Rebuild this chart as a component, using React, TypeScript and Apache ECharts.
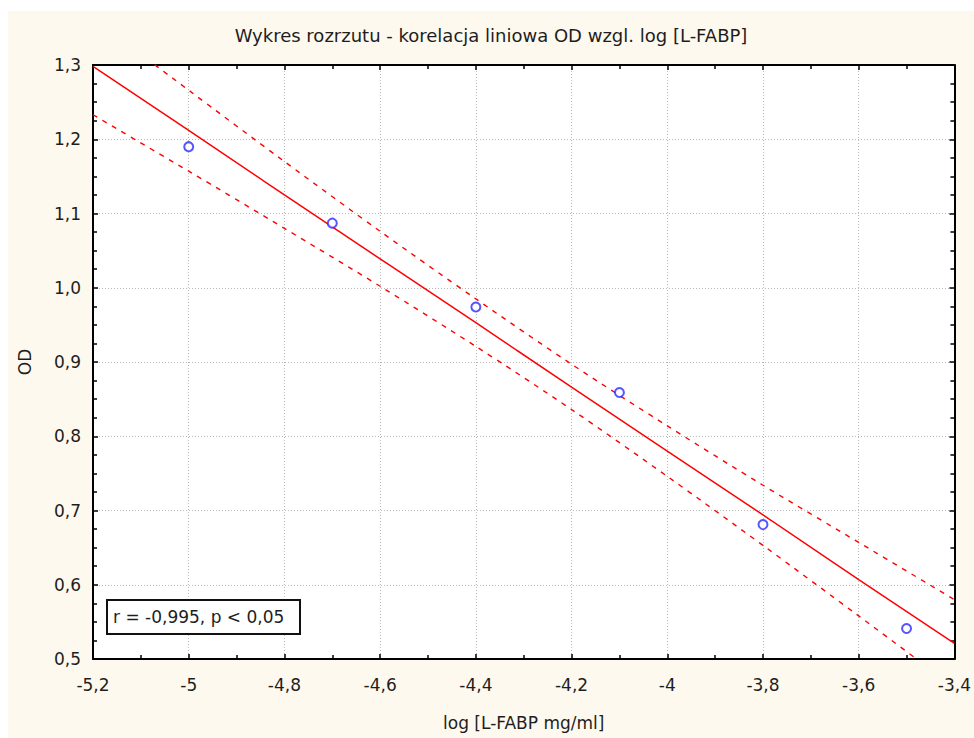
import React, { useEffect, useRef } from "react";
import * as echarts from "echarts";

const titleText = "Wykres rozrzutu - korelacja liniowa OD wzgl. log [L-FABP]";
const xName = "log [L-FABP mg/ml]";
const yName = "OD";
const statText = "r = -0,995, p < 0,05";

// measured points
const logConc = [-5.0, -4.7, -4.4, -4.1, -3.8, -3.5];
const odValues = [1.19, 1.087, 0.974, 0.859, 0.681, 0.541];

// regression line and 95% confidence bands read at the grid positions
const fitX = [-5.2, -5.0, -4.8, -4.6, -4.4, -4.2, -4.0, -3.8, -3.6, -3.4];
const fitLine = [1.298, 1.212, 1.125, 1.039, 0.953, 0.866, 0.78, 0.694, 0.607, 0.521];
const upperBand = [1.363, 1.266, 1.17, 1.076, 0.985, 0.897, 0.814, 0.734, 0.657, 0.58];
const lowerBand = [1.233, 1.157, 1.08, 1.002, 0.921, 0.836, 0.746, 0.653, 0.558, 0.462];

const FONT = "DejaVu Sans";
const TXT = "#1e1e1e";

export default function App() {
  const ref = useRef<HTMLDivElement>(null);
  useEffect(() => {
    const chart = echarts.init(ref.current!, null, { renderer: "svg" });
    const pair = (xs: number[], ys: number[]) => xs.map((x, i) => [x, ys[i]]);
    const fmtX = (v: number) => String(+v.toFixed(1)).replace(".", ",");
    const fmtY = (v: number) => v.toFixed(1).replace(".", ",");
    const tick = { show: true, inside: true, length: 5, lineStyle: { color: "#000", width: 1.5 } };
    const axisLine = { show: true, lineStyle: { color: "#000", width: 2 } };
    const split = { show: true, lineStyle: { color: "#b8b8b8", type: [1, 2], width: 1 } };
    const bandStyle = { color: "#ff0000", width: 1.4, type: [5, 6] };
    const minor = (n: number) => ({ show: true, splitNumber: n, length: 4, lineStyle: { color: "#000", width: 1.5 } });
    chart.setOption({
      animation: false,
      backgroundColor: "transparent",
      title: {
        text: titleText,
        left: "center",
        top: 10,
        textStyle: { fontFamily: FONT, fontSize: 18, fontWeight: "normal", color: TXT },
      },
      grid: {
        left: 82,
        top: 54,
        width: 868,
        height: 594,
        show: true,
        backgroundColor: "#ffffff",
        borderWidth: 0,
      },
      xAxis: [
        {
          type: "value",
          min: -5.2,
          max: -3.4,
          interval: 0.2,
          name: xName,
          nameLocation: "middle",
          nameGap: 55,
          nameTextStyle: { fontFamily: FONT, fontSize: 17, color: TXT },
          axisLine,
          axisTick: tick,
          minorTick: minor(2),
          splitLine: split,
          axisLabel: { formatter: fmtX, margin: 17, fontFamily: FONT, fontSize: 17, color: TXT },
        },
        {
          type: "value",
          position: "top",
          min: -5.2,
          max: -3.4,
          interval: 0.2,
          axisLine,
          axisTick: tick,
          minorTick: minor(2),
          splitLine: { show: false },
          axisLabel: { show: false },
        },
      ],
      yAxis: [
        {
          type: "value",
          min: 0.5,
          max: 1.3,
          interval: 0.1,
          name: yName,
          nameLocation: "middle",
          nameGap: 60,
          nameTextStyle: { fontFamily: FONT, fontSize: 17, color: TXT },
          axisLine,
          axisTick: tick,
          minorTick: minor(4),
          splitLine: split,
          axisLabel: { formatter: fmtY, margin: 12, fontFamily: FONT, fontSize: 17, color: TXT },
        },
        {
          type: "value",
          position: "right",
          min: 0.5,
          max: 1.3,
          interval: 0.1,
          axisLine,
          axisTick: tick,
          minorTick: minor(4),
          splitLine: { show: false },
          axisLabel: { show: false },
        },
      ],
      series: [
        {
          type: "line",
          data: pair(fitX, fitLine),
          showSymbol: false,
          lineStyle: { color: "#ff0000", width: 1.5 },
          z: 3,
        },
        {
          type: "line",
          data: pair(fitX, upperBand),
          showSymbol: false,
          smooth: 0.3,
          lineStyle: bandStyle,
          z: 3,
        },
        {
          type: "line",
          data: pair(fitX, lowerBand),
          showSymbol: false,
          smooth: 0.3,
          lineStyle: bandStyle,
          z: 3,
        },
        {
          type: "scatter",
          data: pair(logConc, odValues),
          symbol: "emptyCircle",
          symbolSize: 9,
          itemStyle: { color: "#2a2aff", borderWidth: 2 },
          z: 5,
        },
      ],
      graphic: [
        {
          type: "rect",
          shape: { x: 99, y: 589, width: 193, height: 34 },
          style: { fill: "#ffffff", stroke: "#111", lineWidth: 2 },
          z: 10,
        },
        {
          type: "text",
          x: 105,
          y: 606,
          style: {
            text: statText,
            fontFamily: FONT,
            fontSize: 17,
            fill: TXT,
            verticalAlign: "middle",
          },
          z: 11,
        },
      ],
    });
    return () => chart.dispose();
  }, []);
  return (
    <div
      ref={ref}
      style={{ position: "fixed", left: 8, top: 11, width: 966, height: 727, background: "#fef9ee" }}
    />
  );
}
